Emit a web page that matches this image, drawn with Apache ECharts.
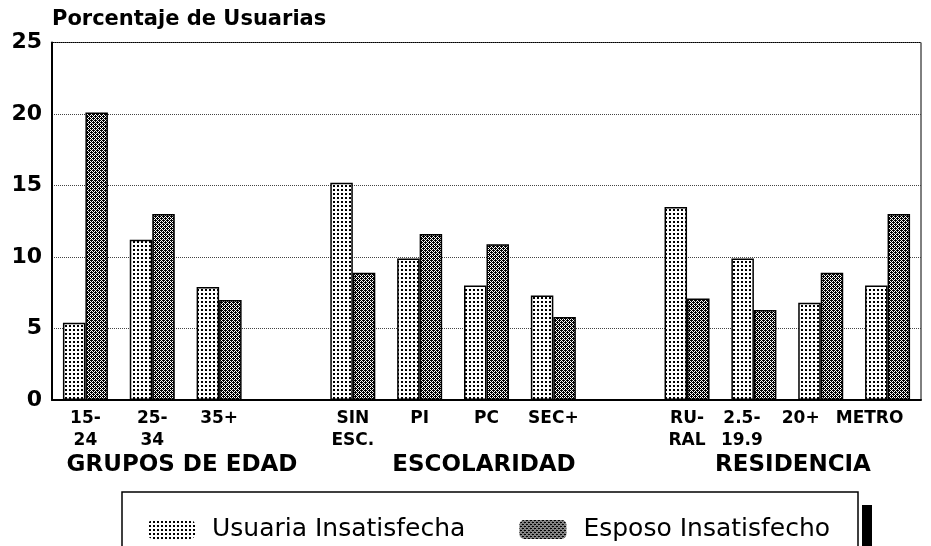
<!DOCTYPE html>
<html>
<head>
<meta charset="utf-8">
<script src="https://cdn.jsdelivr.net/npm/echarts@6/dist/echarts.min.js"></script>
<style>
  html, body { margin: 0; padding: 0; background: #fff; }
  #chart { width: 931px; height: 546px; }
</style>
</head>
<body>
<div id="chart"></div>
<script>
// 数据
const categories = ['15-\n24', '25-\n34', '35+', ' ', 'SIN\nESC.', 'PI', 'PC', 'SEC+', '  ', 'RU-\nRAL', '2.5-\n19.9', '20+', 'METRO'];
const usuaria = [5.4, 11.2, 7.9, null, 15.2, 9.9, 8.0, 7.3, null, 13.5, 9.9, 6.8, 8.0];
const esposo = [20.1, 13.0, 7.0, null, 8.9, 11.6, 10.9, 5.8, null, 7.1, 6.3, 8.9, 13.0];
const yTicks = [0, 5, 10, 15, 20, 25];
const groupNames = ['GRUPOS DE EDAD', 'ESCOLARIDAD', 'RESIDENCIA'];
const seriesNames = ['Usuaria Insatisfecha', 'Esposo Insatisfecho'];

const FONT = '"DejaVu Sans", "Liberation Sans", sans-serif';

// 纹理填充
const makePattern = (size, dark) => {
  const c = document.createElement('canvas');
  c.width = size;
  c.height = size;
  const ctx = c.getContext('2d');
  ctx.fillStyle = '#fff';
  ctx.fillRect(0, 0, size, size);
  ctx.fillStyle = '#000';
  dark.forEach(([x, y]) => ctx.fillRect(x, y, 1, 1));
  return { image: c, repeat: 'repeat' };
};
// 点状
const dotPattern = makePattern(4, [[1, 1], [2, 1], [1, 2], [2, 2]]);
// 交叉网纹
const hatchPattern = makePattern(4, [
  [0, 0], [2, 0], [3, 0],
  [1, 1], [3, 1],
  [0, 2], [1, 2], [2, 2],
  [1, 3], [3, 3]
]);

// 个别标签左移
const labelShift = { '2.5-\n19.9': 12, '20+': 20, 'METRO': 18 };
const xData = categories.map(c => labelShift[c]
  ? { value: c, textStyle: { padding: [0, labelShift[c] * 2, 0, 0] } }
  : c);

const groupX = [182, 484, 793];

const chart = echarts.init(document.getElementById('chart'), null, { renderer: 'canvas' });

const barStyle = (pattern) => ({
  color: pattern,
  borderColor: '#000',
  borderWidth: 1.5
});

const option = {
  backgroundColor: '#fff',
  animation: false,
  title: {
    text: 'Porcentaje de Usuarias',
    left: 47,
    top: 4,
    textStyle: { fontFamily: FONT, fontSize: 21, fontWeight: 'bold', color: '#000' }
  },
  grid: {
    left: 52,
    right: 10,
    top: 42.5,
    bottom: 146,
    outerBoundsMode: 'none',
    show: true,
    borderColor: '#000',
    borderWidth: 1
  },
  legend: {
    left: 143,
    top: 512,
    itemWidth: 47,
    itemHeight: 19,
    itemGap: 54,
    data: seriesNames,
    itemStyle: { borderWidth: 0 },
    textStyle: { fontFamily: FONT, fontSize: 25, color: '#000', padding: [0, 0, 0, 12] }
  },
  xAxis: {
    type: 'category',
    data: xData,
    axisLine: { lineStyle: { color: '#000', width: 2 } },
    axisTick: { show: false },
    axisLabel: {
      interval: 0,
      margin: 8,
      color: '#000',
      fontFamily: FONT,
      fontWeight: 'bold',
      fontSize: 17,
      lineHeight: 22
    }
  },
  yAxis: {
    type: 'value',
    min: yTicks[0],
    max: yTicks[yTicks.length - 1],
    interval: yTicks[1] - yTicks[0],
    axisLine: { show: true, lineStyle: { color: '#000', width: 2 } },
    axisTick: { show: false },
    axisLabel: {
      margin: 10,
      color: '#000',
      fontFamily: FONT,
      fontWeight: 'bold',
      fontSize: 22
    },
    splitLine: { lineStyle: { color: '#444', type: 'dotted', width: 1 } }
  },
  series: [
    {
      name: seriesNames[0],
      type: 'bar',
      data: usuaria,
      barWidth: 22.5,
      barGap: '0%',
      itemStyle: barStyle(dotPattern)
    },
    {
      name: seriesNames[1],
      type: 'bar',
      data: esposo,
      barWidth: 22.5,
      barGap: '0%',
      itemStyle: barStyle(hatchPattern)
    }
  ],
  graphic: [
    ...groupNames.map((name, i) => ({
      type: 'text',
      x: groupX[i],
      y: 465,
      style: {
        text: name,
        fontFamily: FONT,
        fontWeight: 'bold',
        fontSize: 23,
        fill: '#000',
        align: 'center',
        verticalAlign: 'middle'
      }
    })),
    // 图例框
    {
      type: 'rect',
      shape: { x: 122, y: 492, width: 736, height: 70 },
      style: { fill: 'none', stroke: '#000', lineWidth: 1.5 },
      z: 1
    },
    {
      type: 'rect',
      shape: { x: 862, y: 505, width: 10, height: 50 },
      style: { fill: '#000' },
      z: 1
    }
  ]
};

chart.setOption(option);
</script>
</body>
</html>
